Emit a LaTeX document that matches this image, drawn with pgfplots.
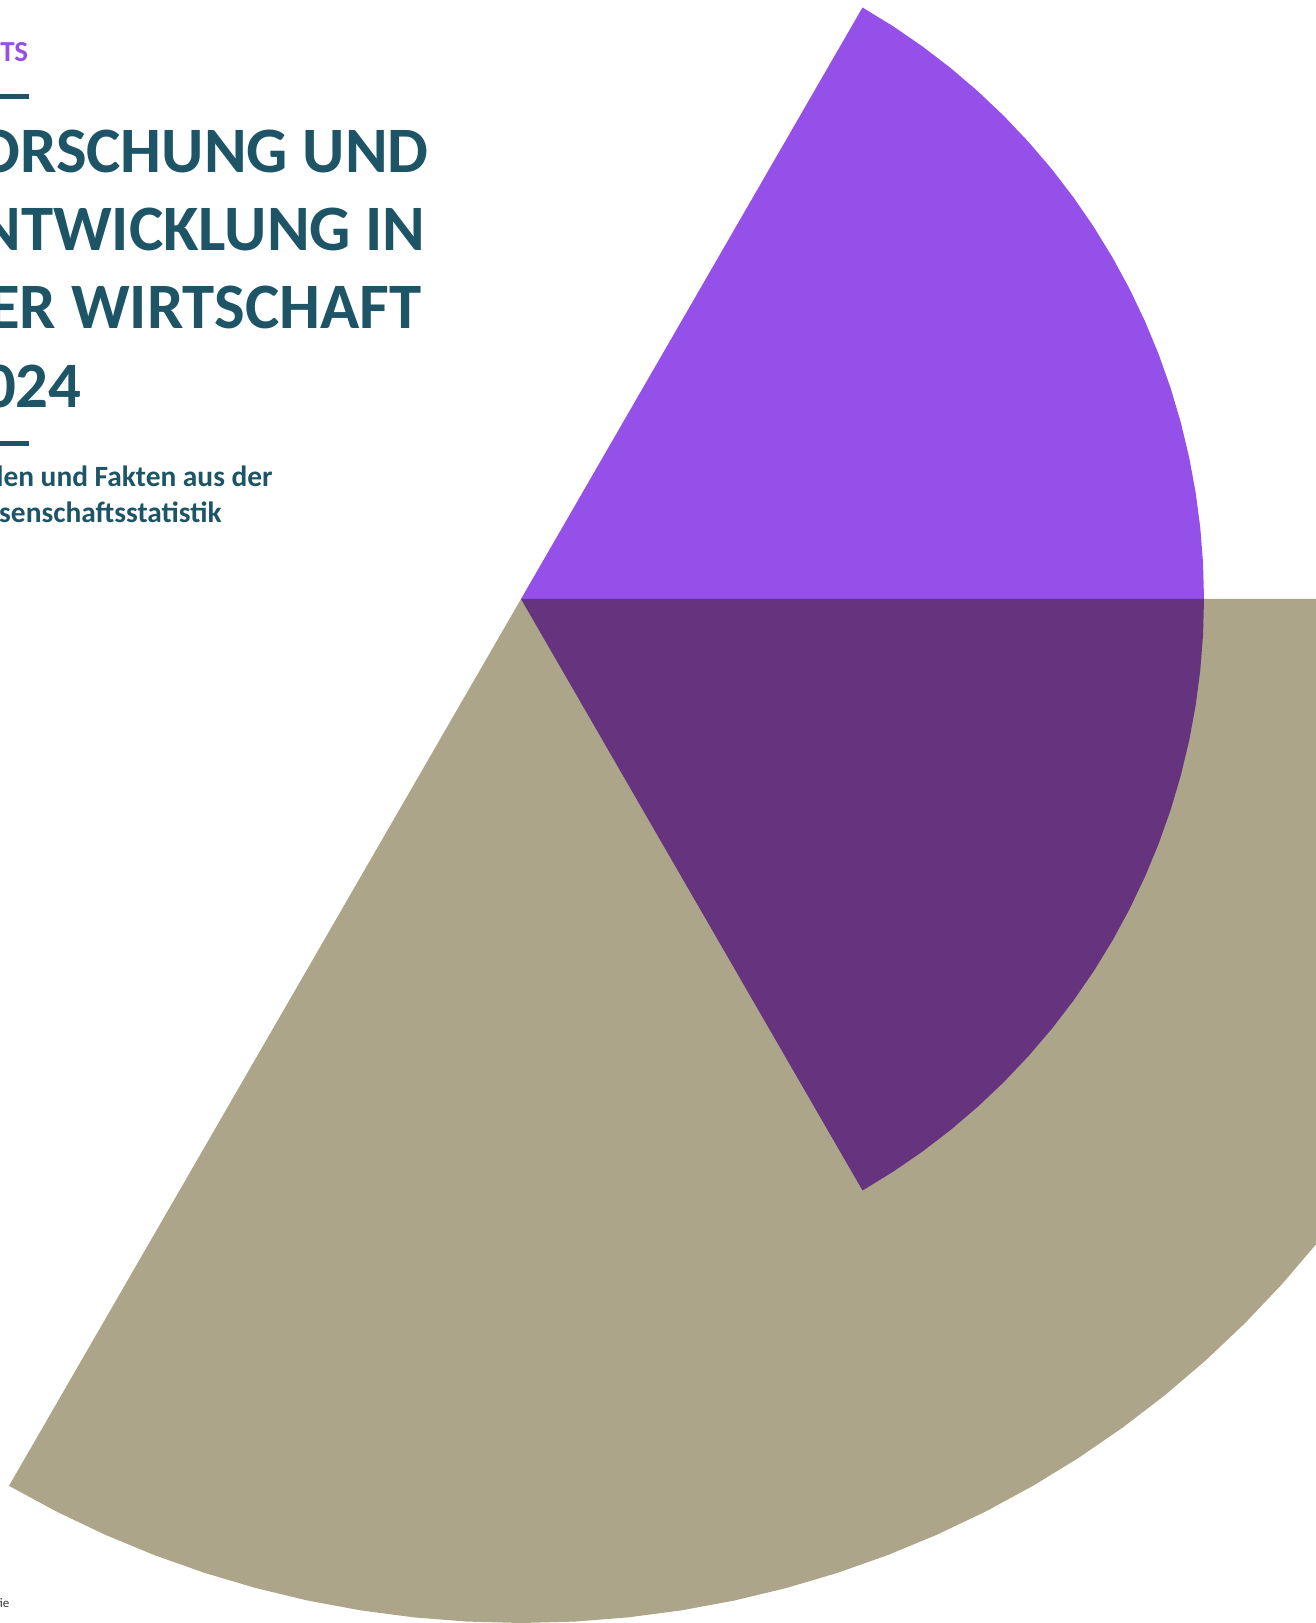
\documentclass[border=0pt]{standalone}
\usepackage{pgfplots}
\pgfplotsset{compat=1.18}
\usepackage{fontspec}
\setmainfont{Carlito}
\definecolor{cpurple}{RGB}{150,80,234}
\definecolor{cdark}{RGB}{102,52,127}
\definecolor{ctan}{RGB}{173,165,137}
\definecolor{cteal}{RGB}{29,84,102}
\begin{document}
\begin{tikzpicture}
\useasboundingbox (0,0) rectangle (658pt,811.5pt);
\clip (0,0) rectangle (658pt,811.5pt);
\begin{axis}[
  at={(0,0)}, anchor=south west,
  width=658pt, height=811.5pt, scale only axis,
  xmin=-521, xmax=795, ymin=-1024, ymax=599,
  hide axis, clip=true,
]
% tan wedge: angle 0 to -120, radius 1024
\addplot[draw=none, fill=ctan, data cs=polar] coordinates {
(0,0) (0,1024) (-3,1024) (-6,1024) (-9,1024) (-12,1024) (-15,1024) (-18,1024) (-21,1024) (-24,1024) (-27,1024) (-30,1024) (-33,1024) (-36,1024) (-39,1024) (-42,1024) (-45,1024) (-48,1024) (-51,1024) (-54,1024) (-57,1024) (-60,1024) (-63,1024) (-66,1024) (-69,1024) (-72,1024) (-75,1024) (-78,1024) (-81,1024) (-84,1024) (-87,1024) (-90,1024) (-93,1024) (-96,1024) (-99,1024) (-102,1024) (-105,1024) (-108,1024) (-111,1024) (-114,1024) (-117,1024) (-120,1024) (0,0)
};
% purple wedge: angle 0 to 60, radius 683
\addplot[draw=none, fill=cpurple, data cs=polar] coordinates {
(0,0) (0,683) (3,683) (6,683) (9,683) (12,683) (15,683) (18,683) (21,683) (24,683) (27,683) (30,683) (33,683) (36,683) (39,683) (42,683) (45,683) (48,683) (51,683) (54,683) (57,683) (60,683) (0,0)
};
% dark purple wedge: angle 0 to -60, radius 683
\addplot[draw=none, fill=cdark, data cs=polar] coordinates {
(0,0) (0,683) (-3,683) (-6,683) (-9,683) (-12,683) (-15,683) (-18,683) (-21,683) (-24,683) (-27,683) (-30,683) (-33,683) (-36,683) (-39,683) (-42,683) (-45,683) (-48,683) (-51,683) (-54,683) (-57,683) (-60,683) (0,0)
};
\end{axis}
% texts
\node[anchor=base east, inner sep=0, text=cpurple, font=\fontsize{14.5}{14.5}\selectfont\bfseries] at (14.3pt,780.8pt) {FACTS};
\fill[cteal] (0,761.9pt) rectangle (14.3pt,764.5pt);
\node[anchor=base east, inner sep=0, text=cteal, font=\fontsize{32.4}{32.4}\selectfont\bfseries] at (214.5pt,725.2pt) {FORSCHUNG UND};
\node[anchor=base east, inner sep=0, text=cteal, font=\fontsize{32.4}{32.4}\selectfont\bfseries] at (213pt,686.1pt) {ENTWICKLUNG IN};
\node[anchor=base east, inner sep=0, text=cteal, font=\fontsize{32.4}{32.4}\selectfont\bfseries] at (211pt,647pt) {DER WIRTSCHAFT};
\node[anchor=base east, inner sep=0, text=cteal, font=\fontsize{32.4}{32.4}\selectfont\bfseries] at (41pt,607.9pt) {2024};
\fill[cteal] (0,588.45pt) rectangle (14.3pt,591.05pt);
\node[anchor=base east, inner sep=0, text=cteal, font=\fontsize{14.7}{14.7}\selectfont\bfseries] at (136.5pt,568.2pt) {Zahlen und Fakten aus der};
\node[anchor=base east, inner sep=0, text=cteal, font=\fontsize{14.7}{14.7}\selectfont\bfseries] at (111pt,550.05pt) {Wissenschaftsstatistik};
\node[anchor=base east, inner sep=0, text=black!80, font=\fontsize{6.5}{6.5}\selectfont] at (4.9pt,7.5pt) {Fotografie};
\end{tikzpicture}
\end{document}
